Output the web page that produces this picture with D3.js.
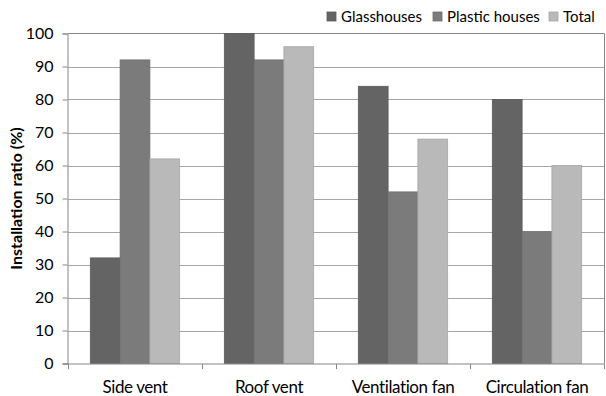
<!DOCTYPE html>
<html><head><meta charset="utf-8">
<script src="https://cdn.jsdelivr.net/npm/d3@7"></script>
<style>body{margin:0;background:#fff}svg{display:block}text{font-family:Lato,"Open Sans",sans-serif;fill:#000}</style>
</head><body><svg width="606" height="396"></svg>
<script>
const categories = ["Side vent", "Roof vent", "Ventilation fan", "Circulation fan"];
const seriesNames = ["Glasshouses", "Plastic houses", "Total"];
const glasshouses = [32, 100, 84, 80];
const plasticHouses = [92, 92, 52, 40];
const total = [62, 96, 68, 60];
const yTicks = [0, 10, 20, 30, 40, 50, 60, 70, 80, 90, 100];
const colors = ["#646464", "#7b7b7b", "#b9b9b9"];
const seriesValues = [glasshouses, plasticHouses, total];

(function () {
const svg = d3.select("svg");
const mLeft = 68, mRight = 604, mTop = 33.5, mBottom = 363.5;
const x = d3.scaleBand().domain(categories).range([mLeft, mRight]).paddingInner(0).paddingOuter(0);
const xi = d3.scaleBand().domain(seriesNames).range([0, x.bandwidth()]).paddingInner(0).paddingOuter(0.75);
const y = d3.scaleLinear().domain([0, 100]).range([mBottom, mTop]);

// gridlines
svg.append("g").selectAll("line").data(yTicks.filter(d => d > 0 && d < 100)).join("line")
  .attr("x1", mLeft).attr("x2", mRight).attr("y1", d => Math.round(y(d)) + 0.5).attr("y2", d => Math.round(y(d)) + 0.5)
  .attr("stroke", "#a6a6a6").attr("stroke-width", 1);

// border top & right
svg.append("path").attr("d", `M${mLeft},${mTop}H${mRight + 0.5}V${mBottom}`).attr("fill", "none").attr("stroke", "#868686").attr("stroke-width", 1);

// bars
const table = categories.map((c, i) => ({ c, vals: seriesNames.map((s, j) => ({ s, j, v: seriesValues[j][i] })) }));
svg.append("g").selectAll("g").data(table).join("g")
  .attr("transform", d => `translate(${x(d.c)},0)`)
  .selectAll("rect").data(d => d.vals).join("rect")
  .attr("x", d => xi(d.s)).attr("width", xi.bandwidth())
  .attr("y", d => y(d.v)).attr("height", d => y(0) - y(d.v))
  .attr("fill", d => colors[d.j]).attr("stroke", d => d3.color(colors[d.j]).darker(0.3)).attr("stroke-width", 0.8);

// y axis
const yAxis = svg.append("g").attr("transform", `translate(${mLeft - 0.5},0)`)
  .call(d3.axisLeft(y).tickValues(yTicks).tickSize(5).tickPadding(9));
yAxis.select(".domain").attr("stroke", "#868686");
yAxis.selectAll(".tick line").attr("stroke", "#868686");
yAxis.selectAll("text").style("font-size", "16px").attr("fill", "#000");

// x axis
const xAxis = svg.append("g").attr("transform", `translate(0,${mBottom + 0.5})`);
xAxis.append("line").attr("x1", mLeft - 5).attr("x2", mRight + 0.5).attr("stroke", "#868686");
xAxis.selectAll("line.t").data(d3.range(categories.length + 1)).join("line").attr("class", "t")
  .attr("x1", i => mLeft + i * x.bandwidth() + 0.5).attr("x2", i => mLeft + i * x.bandwidth() + 0.5)
  .attr("y1", 0).attr("y2", 5).attr("stroke", "#868686");
xAxis.selectAll("text").data(categories).join("text")
  .attr("x", d => x(d) + x.bandwidth() / 2).attr("y", 29).attr("text-anchor", "middle")
  .style("font-size", "17px").style("letter-spacing", "-0.4px").text(d => d);

// y title
svg.append("text").attr("transform", `translate(22,${(mTop + mBottom) / 2}) rotate(-90)`)
  .attr("text-anchor", "middle").style("font-size", "16px").style("font-weight", "bold")
  .text("Installation ratio (%)");

// legend
const legX = [327, 433, 549];
const leg = svg.append("g").selectAll("g").data(seriesNames).join("g")
  .attr("transform", (d, i) => `translate(${legX[i]},12)`);
leg.append("rect").attr("width", 9).attr("height", 9).attr("fill", (d, i) => colors[i])
  .attr("stroke", (d, i) => d3.color(colors[i]).darker(0.3)).attr("stroke-width", 0.8);
leg.append("text").attr("x", 14).attr("y", 9.5).style("font-size", "15px").text(d => d);
})();
</script></body></html>
